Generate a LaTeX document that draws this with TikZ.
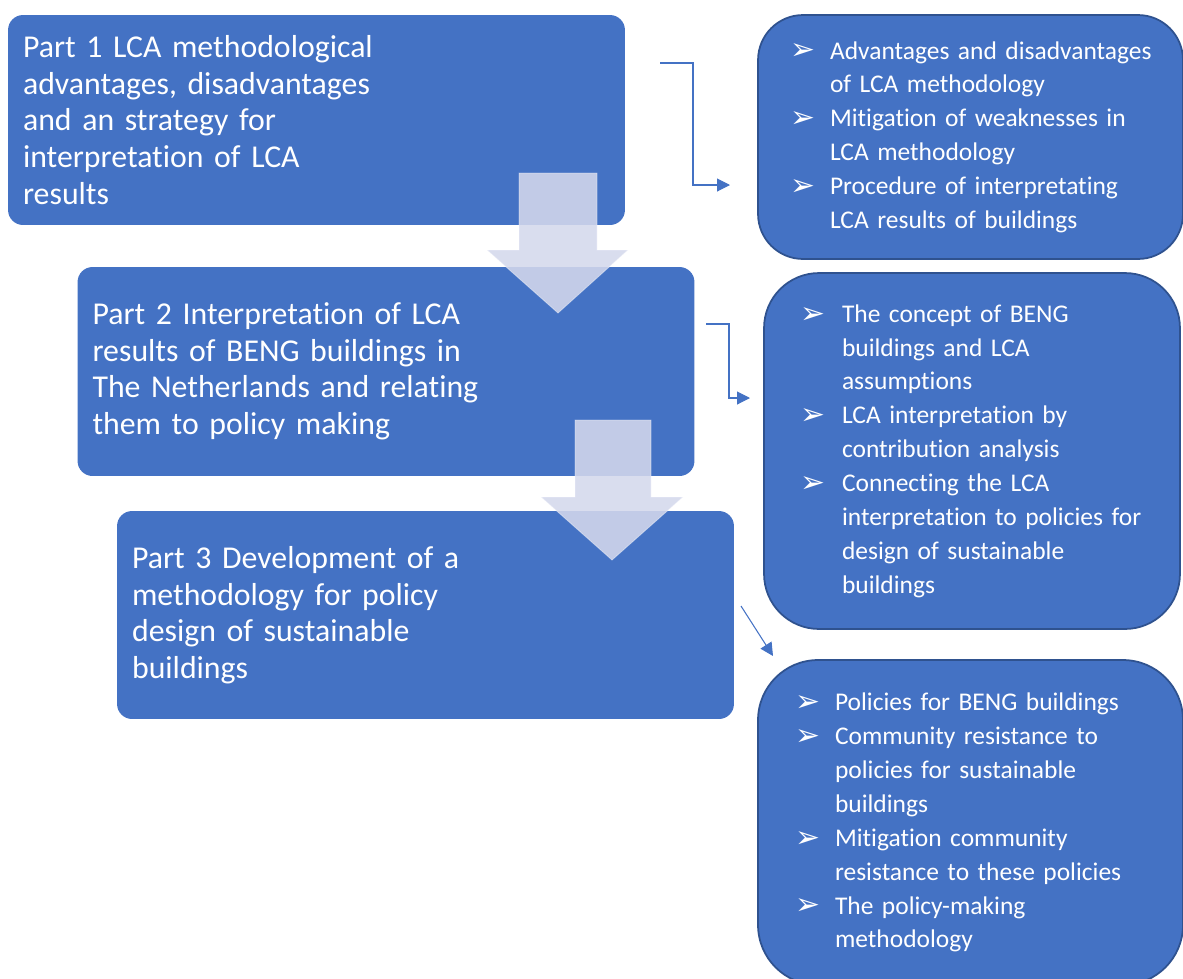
\documentclass[tikz,border=0pt]{standalone}
\usepackage{fontspec}
\setmainfont{Carlito}[Ligatures={NoCommon}]
\newfontfamily\symfont{DejaVu Sans}
\usetikzlibrary{arrows.meta}

\definecolor{azul}{RGB}{68,114,196}
\definecolor{borde}{RGB}{47,82,143}
\definecolor{lila}{RGB}{212,216,236}
\newcommand{\vin}{\raisebox{-0.5pt}{\symfont\fontsize{17}{17}\selectfont ➢}}

\begin{document}
\begin{tikzpicture}[x=0.02cm,y=-0.02cm,
    parte/.style={fill=azul, text=white, rounded corners=0.3cm,
      minimum width=12.34cm, inner xsep=0.3cm, text width=11.74cm,
      align=left, font=\fontsize{18.1}{20.8}\selectfont},
    lista/.style={fill=azul, draw=borde, line width=1pt, text=white,
      align=left, font=\fontsize{14.5}{19.3}\selectfont},
    flecha/.style={fill=lila, fill opacity=0.88, draw=white, draw opacity=0.4, line width=0.5pt},
    enlace/.style={draw=azul, line width=0.6pt, -{Triangle[length=0.26cm,width=0.26cm]}}]

        % Paso 1: Fija el marco del dibujo
        \useasboundingbox (0,0) rectangle (1183,978);

        % Paso 2: Dibuja las tres partes de la tesis
        \node[parte, minimum height=4.2cm] (parte1) at (316.5,120)
             {Part 1 LCA methodological\\advantages, disadvantages\\and an strategy for\\interpretation of LCA\\results};
        \node[parte, minimum height=4.18cm] (parte2) at (386,371.5)
             {Part 2 Interpretation of LCA\\results of BENG buildings in\\The Netherlands and relating\\them to policy making};
        \node[parte, minimum height=4.16cm] (parte3) at (425.5,615)
             {Part 3 Development of a\\methodology for policy\\design of sustainable\\buildings};

        % Paso 3: Dibuja las listas de contenidos a la derecha
        \node[lista, rounded corners=0.9cm, minimum width=8.5cm, minimum height=4.88cm,
              inner xsep=0.64cm, text width=7.22cm] (lista1) at (970.5,137)
             {\begin{tabular}{@{}p{0.8cm}@{}l@{}}
              \vin & Advantages and disadvantages\\
                   & of LCA methodology\\
              \vin & Mitigation of weaknesses in\\
                   & LCA methodology\\
              \vin & Procedure of interpretating\\
                   & LCA results of buildings
              \end{tabular}};
        \node[lista, rounded corners=1.1cm, minimum width=8.32cm, minimum height=7.12cm,
              inner xsep=0.72cm, text width=6.88cm] (lista2) at (972,451)
             {\begin{tabular}{@{}p{0.84cm}@{}l@{}}
              \vin & The concept of BENG\\
                   & buildings and LCA\\
                   & assumptions\\
              \vin & LCA interpretation by\\
                   & contribution analysis\\
              \vin & Connecting the LCA\\
                   & interpretation to policies for\\
                   & design of sustainable\\
                   & buildings
              \end{tabular}};
        \node[lista, rounded corners=1.2cm, minimum width=8.5cm, minimum height=6.5cm,
              inner xsep=0.74cm, text width=7.02cm] (lista3) at (970.5,822.5)
             {\begin{tabular}{@{}p{0.8cm}@{}l@{}}
              \vin & Policies for BENG buildings\\
              \vin & Community resistance to\\
                   & policies for sustainable\\
                   & buildings\\
              \vin & Mitigation community\\
                   & resistance to these policies\\
              \vin & The policy-making\\
                   & methodology
              \end{tabular}};

        % Paso 4: Agrega las flechas grandes entre las partes
        \draw[flecha] (519,173) -- (597,173) -- (597,250) -- (628,250)
             -- (558,313) -- (487,250) -- (519,250) -- cycle;
        \draw[flecha] (575,420) -- (651,420) -- (651,497) -- (683,497)
             -- (612,560) -- (541,497) -- (575,497) -- cycle;

        % Paso 5: Conecta cada parte con su lista
        \coordinate (s1) at (660,63);
        \coordinate (k1) at (693,120);
        \coordinate (e1) at (730,185);
        \coordinate (s2) at (706,324);
        \coordinate (k2) at (729,360);
        \coordinate (e2) at (750,398);
        \coordinate (s3) at (741,606);
        \coordinate (e3) at (773,656);
        \draw[enlace] (s1) -| (k1) |- (e1);
        \draw[enlace] (s2) -| (k2) |- (e2);
        \draw[enlace] (s3) -- (e3);
    \end{tikzpicture}
\end{document}
